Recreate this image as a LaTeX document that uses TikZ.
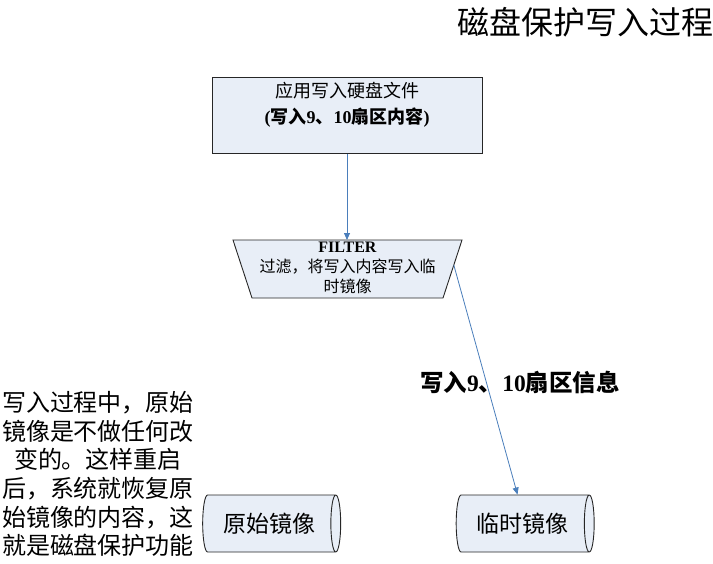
\documentclass[tikz,border=0pt]{standalone}
\usepackage{fontspec}
\setmainfont{Liberation Serif}
\newfontfamily\cjk{Noto Sans CJK SC}
\usetikzlibrary{shapes.geometric,arrows.meta}
\definecolor{boxfill}{RGB}{232,238,247}
\definecolor{arrowblue}{RGB}{74,126,187}
\tikzset{
  shapebox/.style={draw=black!85, line width=0.9pt, fill=boxfill},
  conn/.style={draw=arrowblue, line width=0.8pt, -{Triangle[width=6pt,length=7pt]}},
  plain/.style={inner sep=0pt, align=center},
}
\begin{document}
\begin{tikzpicture}[x=1pt,y=-1pt]
\useasboundingbox (0,0) rectangle (713,563);
\node[plain, font=\cjk\fontsize{32}{34}\selectfont] (title) at (585,22) {磁盘保护写入过程};
\node[shapebox, minimum width=270pt, minimum height=76pt, inner sep=0pt] (app) at (347,115.5) {};
\node[plain, font=\fontsize{18}{26}\selectfont] (apptext) at (347,105)
  {{\cjk 应用写入硬盘文件}\\ \textbf{({\cjk 写入}9{\cjk 、}10{\cjk 扇区内容})}};
% FILTER trapezoid
\coordinate (ftl) at (233,240);
\coordinate (ftr) at (462,240);
\coordinate (fbr) at (443,298);
\coordinate (fbl) at (252,298);
\coordinate (ftop) at (347,240);
\coordinate (fright) at (453.8,265);
\draw[shapebox] (ftl) -- (ftr) -- (fbr) -- (fbl) -- cycle;
\node[plain, font=\fontsize{16}{20}\selectfont] (filtertext) at (347.5,268)
  {\textbf{FILTER}\\ {\cjk 过滤，将写入内容写入临}\\ {\cjk 时镜像}};
\node[shapebox, cylinder, minimum width=57pt, minimum height=138pt, aspect=0.46, inner sep=0pt,
  font=\cjk\fontsize{23}{24}\selectfont] (orig) at (269,523.5) {原始镜像};
\node[shapebox, cylinder, minimum width=57pt, minimum height=138pt, aspect=0.46, inner sep=0pt,
  font=\cjk\fontsize{23}{24}\selectfont] (temp) at (522.5,523.5) {临时镜像};
\node[plain, font=\fontsize{23.5}{25}\selectfont] (lbl) at (520,382)
  {\textbf{{\cjk 写入}9{\cjk 、}10{\cjk 扇区信息}}};
\node[plain, font=\cjk\fontsize{24}{28.6}\selectfont] (note) at (98,474)
  {写入过程中，原始\\镜像是不做任何改\\变的。这样重启\\后，系统就恢复原\\始镜像的内容，这\\就是磁盘保护功能};
\draw[conn] (app.south) -- (ftop);
\draw[conn] (fright) -- ([xshift=-5pt]temp.north);
\end{tikzpicture}
\end{document}
